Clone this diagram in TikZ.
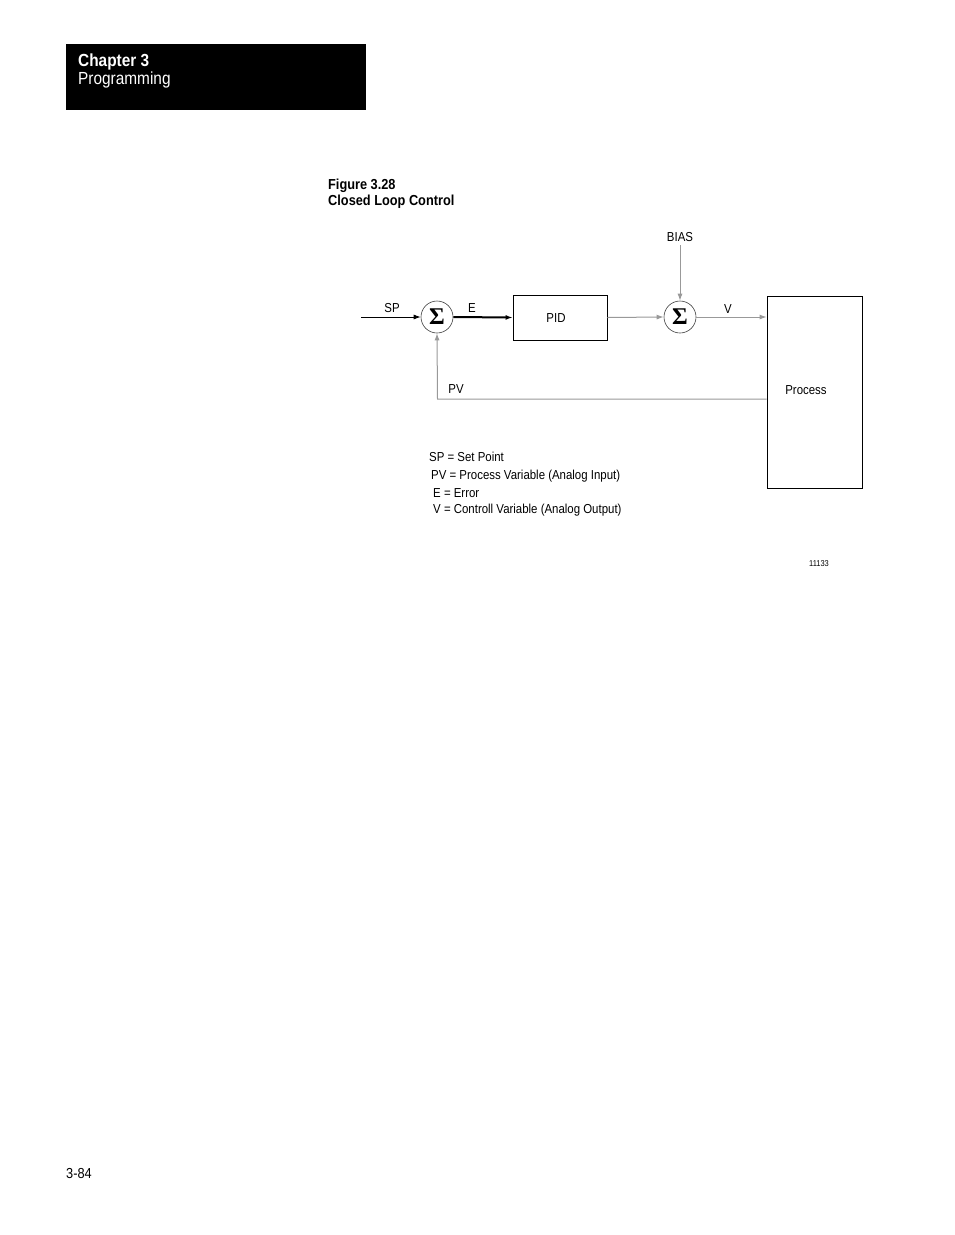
\documentclass[tikz,border=0pt]{standalone}
\usepackage{fontspec}
\setmainfont{Liberation Sans}[FakeStretch=0.88]
\newfontfamily\sigmafont{Liberation Serif}
\usetikzlibrary{arrows.meta}
\tikzset{
  lbl/.style={inner sep=0pt, font=\fontsize{13}{15}\selectfont},
  legend/.style={inner sep=0pt, anchor=base west, font=\fontsize{13}{15}\selectfont},
  blockbox/.style={draw=black, line width=0.8pt, inner sep=0pt},
  sumnode/.style={circle, draw=black!75, line width=0.6pt, minimum size=32pt, inner sep=0pt, font=\sigmafont\bfseries\fontsize{24}{24}\selectfont},
  tip/.style={-{Latex[length=7pt,width=5pt]}},
  blk/.style={tip, draw=black, line width=0.8pt},
  thk/.style={tip, draw=black, line width=2pt},
  gry/.style={tip, draw=black!40, line width=1pt},
}
\begin{document}
\begin{tikzpicture}[x=1pt,y=-1pt]
\path[use as bounding box, fill=white] (0,0) rectangle (954,1235);

% header
\node[fill=black, minimum width=300pt, minimum height=66pt, inner sep=0pt, anchor=north west] (hdr) at (66,44) {};
\node[anchor=base west, inner sep=0pt, text=white, font=\bfseries\fontsize{17.5}{20}\selectfont] (chap) at (78,66) {Chapter 3};
\node[anchor=base west, inner sep=0pt, text=white, font=\fontsize{17.5}{20}\selectfont] (prog) at (78,84) {Programming};

% figure title
\node[anchor=base west, inner sep=0pt, font=\bfseries\fontsize{14.5}{16}\selectfont] (fig) at (328,189) {Figure 3.28};
\node[anchor=base west, inner sep=0pt, font=\bfseries\fontsize{14.5}{16}\selectfont] (title) at (328,205) {Closed Loop Control};

% blocks
\node[sumnode] (s1) at (437,317) {Σ};
\node[sumnode] (s2) at (680,317) {Σ};
\node[blockbox, minimum width=94pt, minimum height=45pt] (pid) at (560,317.5) {};
\node[lbl] (pidl) at (556,318) {PID};
\node[blockbox, minimum width=95pt, minimum height=192pt] (proc) at (814.5,392) {};
\node[lbl] (procl) at (806,390) {Process};

% labels
\node[lbl] (spl) at (392,308) {SP};
\node[lbl] (el) at (472,308) {E};
\node[lbl] (vl) at (728,309) {V};
\node[lbl] (pvl) at (456,389) {PV};
\node[lbl] (biasl) at (680,237) {BIAS};

% connectors
\coordinate (spin) at (361,317);
\coordinate (biastop) at (680,245);
\coordinate (fb) at (437.5,399);
\draw[blk] (spin) -- (s1.west);
\draw[thk] (s1.east) -- (pid.west);
\draw[gry] (pid.east) -- (s2.west);
\draw[gry] (biastop) -- (s2.north);
\draw[gry] (s2.east) -- (s2.east -| proc.west);
\draw[gry] (fb -| proc.west) -- (fb) -- (s1.south);

% legend
\node[legend] (lg1) at (429,461) {SP = Set Point};
\node[legend] (lg2) at (431,479) {PV = Process Variable (Analog Input)};
\node[legend] (lg3) at (433,497) {E = Error};
\node[legend] (lg4) at (433,513) {V = Controll Variable (Analog Output)};

\node[anchor=base west, inner sep=0pt, font=\fontsize{8.5}{10}\selectfont] (num) at (809,566) {11133};
\node[anchor=base west, inner sep=0pt, font=\fontsize{14.5}{16}\selectfont] (page) at (66,1178) {3-84};
\end{tikzpicture}
\end{document}
